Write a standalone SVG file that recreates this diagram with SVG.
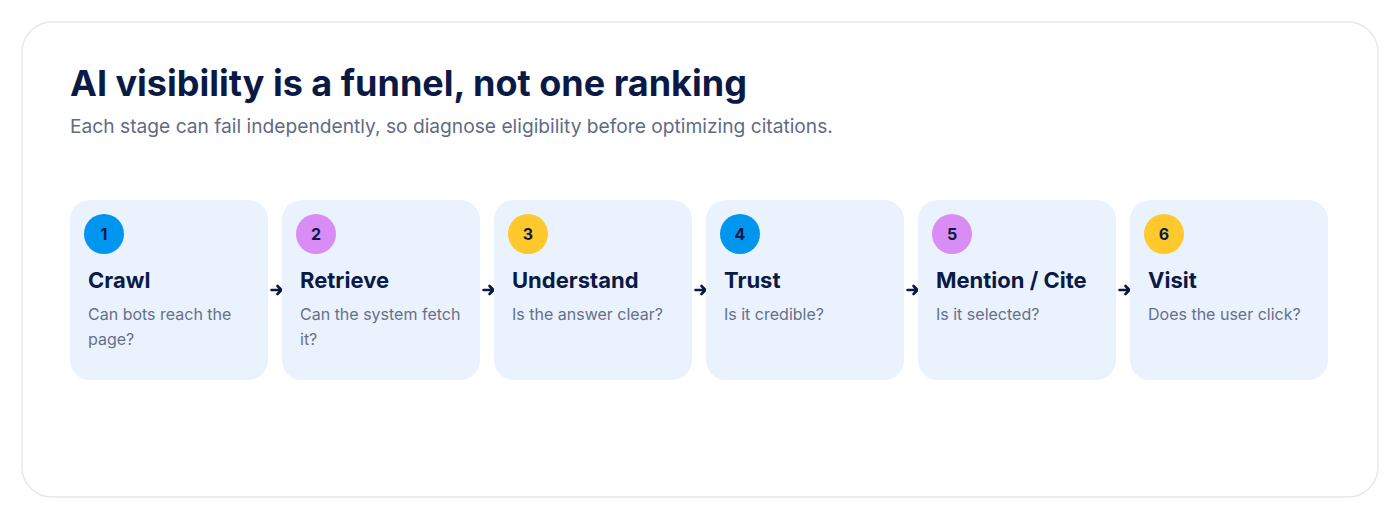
<svg xmlns="http://www.w3.org/2000/svg" width="1400" height="520" viewBox="0 0 1400 520">
<defs>
<style>
.title{font-family:Inter,"Noto Sans","Liberation Sans",sans-serif;font-weight:700;font-size:36px;fill:#0b1a45}
.sub{font-family:Inter,"Noto Sans","Liberation Sans",sans-serif;font-size:19.2px;fill:#5f6b85}
.card{fill:#eaf2fe}
.num{font-family:Inter,"Noto Sans","Liberation Sans",sans-serif;font-weight:700;font-size:16px;fill:#0b1a45;text-anchor:middle}
.h{font-family:Inter,"Noto Sans","Liberation Sans",sans-serif;font-weight:700;font-size:22px;fill:#0b1a45}
.d{font-family:Inter,"Noto Sans","Liberation Sans",sans-serif;font-size:16px;fill:#66708a}
.c1{fill:#0096f0}.c2{fill:#da8cf5}.c3{fill:#ffc82c}
.conn{stroke:#0b1a45;stroke-width:2.6;fill:none;stroke-linecap:round;stroke-linejoin:round}
</style>
</defs>
<rect width="1400" height="520" fill="#ffffff"/>
<rect x="22" y="22" width="1356" height="475" rx="30" fill="#ffffff" stroke="#e3e8ef" stroke-width="1.5"/>
<text class="title" x="70" y="96">AI visibility is a funnel, not one ranking</text>
<text class="sub" x="70" y="133">Each stage can fail independently, so diagnose eligibility before optimizing citations.</text>
<g id="connectors">
<path class="conn" d="M271.5 290H281.5M277.5 286L281.5 290L277.5 294"/>
<path class="conn" d="M483.5 290H493.5M489.5 286L493.5 290L489.5 294"/>
<path class="conn" d="M695.5 290H705.5M701.5 286L705.5 290L701.5 294"/>
<path class="conn" d="M907.5 290H917.5M913.5 286L917.5 290L913.5 294"/>
<path class="conn" d="M1119.5 290H1129.5M1125.5 286L1129.5 290L1125.5 294"/>
</g>
<g id="node1">
<rect class="card" x="70" y="200" width="198" height="180" rx="20"/>
<circle class="c1" cx="104" cy="234" r="20"/>
<text class="num" x="104" y="240">1</text>
<text class="h" x="88" y="288">Crawl</text>
<text class="d" x="88" y="320">Can bots reach the</text>
<text class="d" x="88" y="345">page?</text>
</g>
<g id="node2">
<rect class="card" x="282" y="200" width="198" height="180" rx="20"/>
<circle class="c2" cx="316" cy="234" r="20"/>
<text class="num" x="316" y="240">2</text>
<text class="h" x="300" y="288">Retrieve</text>
<text class="d" x="300" y="320">Can the system fetch</text>
<text class="d" x="300" y="345">it?</text>
</g>
<g id="node3">
<rect class="card" x="494" y="200" width="198" height="180" rx="20"/>
<circle class="c3" cx="528" cy="234" r="20"/>
<text class="num" x="528" y="240">3</text>
<text class="h" x="512" y="288">Understand</text>
<text class="d" x="512" y="320">Is the answer clear?</text>
</g>
<g id="node4">
<rect class="card" x="706" y="200" width="198" height="180" rx="20"/>
<circle class="c1" cx="740" cy="234" r="20"/>
<text class="num" x="740" y="240">4</text>
<text class="h" x="724" y="288">Trust</text>
<text class="d" x="724" y="320">Is it credible?</text>
</g>
<g id="node5">
<rect class="card" x="918" y="200" width="198" height="180" rx="20"/>
<circle class="c2" cx="952" cy="234" r="20"/>
<text class="num" x="952" y="240">5</text>
<text class="h" x="936" y="288">Mention / Cite</text>
<text class="d" x="936" y="320">Is it selected?</text>
</g>
<g id="node6">
<rect class="card" x="1130" y="200" width="198" height="180" rx="20"/>
<circle class="c3" cx="1164" cy="234" r="20"/>
<text class="num" x="1164" y="240">6</text>
<text class="h" x="1148" y="288">Visit</text>
<text class="d" x="1148" y="320">Does the user click?</text>
</g>
</svg>
